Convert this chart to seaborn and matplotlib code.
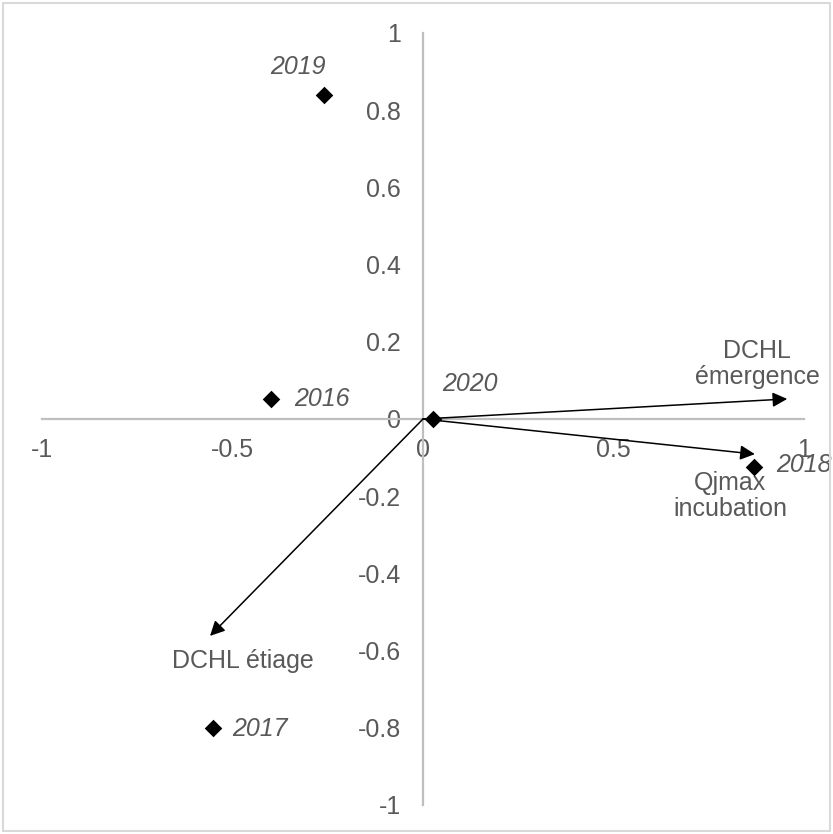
import matplotlib
matplotlib.use("Agg")
import matplotlib.pyplot as plt
from matplotlib.patches import Rectangle
import seaborn as sns
import pandas as pd

# Individuals (years) on the first two components
years = ["2016", "2017", "2018", "2019", "2020"]
comp1 = [-0.40, -0.55, 0.87, -0.26, 0.027]
comp2 = [0.052, -0.80, -0.124, 0.84, 0.0]
# label anchors for the years
year_lx = [-0.338, -0.50, 0.928, -0.328, 0.123]
year_ly = [0.052, -0.803, -0.12, 0.912, 0.091]
year_ha = ["left", "left", "left", "center", "center"]

# Variables (loadings) drawn as arrows from the origin
variables = ["DCHL\némergence", "Qjmax\nincubation", "DCHL étiage"]
load1 = [0.956, 0.871, -0.559]
load2 = [0.052, -0.091, -0.562]
var_lx = [0.877, 0.806, -0.472]
var_ly = [0.142, -0.2, -0.627]

xticks = [-1, -0.5, 0, 0.5, 1]
yticks = [-1, -0.8, -0.6, -0.4, -0.2, 0, 0.2, 0.4, 0.6, 0.8, 1]

sns.set_theme(style="white")
plt.rcParams["font.family"] = ["Liberation Sans", "DejaVu Sans"]

axis_grey = "#BFBFBF"
text_grey = "#595959"
fs = 18

fig = plt.figure(figsize=(8.33, 8.34), dpi=100)
ax = fig.add_axes([42 / 833, 1 - 805 / 834, 762 / 833, 772 / 834])

df = pd.DataFrame({"year": years, "c1": comp1, "c2": comp2})
sns.scatterplot(data=df, x="c1", y="c2", marker="D", color="black",
                s=80, edgecolor="black", linewidth=0, ax=ax, zorder=5,
                clip_on=False)

for name, vx, vy in zip(variables, load1, load2):
    ax.annotate("", xy=(vx, vy), xytext=(0, 0),
                arrowprops=dict(arrowstyle="-|>", color="black", lw=1.1,
                                mutation_scale=22, shrinkA=0, shrinkB=0),
                zorder=4)

for name, lx, ly in zip(variables, var_lx, var_ly):
    ax.text(lx, ly, name, ha="center", va="center", fontsize=fs,
            color=text_grey, linespacing=1.1)

for yr, lx, ly, ha in zip(years, year_lx, year_ly, year_ha):
    ax.text(lx, ly, yr, ha=ha, va="center", fontsize=fs, color=text_grey,
            style="italic", clip_on=False)

ax.set_xlim(-1, 1)
ax.set_ylim(-1, 1)
ax.set_xticks(xticks)
ax.set_yticks(yticks)
ax.set_xticklabels(["-1", "-0.5", "0", "0.5", "1"])
ax.set_yticklabels(["-1", "-0.8", "-0.6", "-0.4", "-0.2", "0", "0.2", "0.4",
                    "0.6", "0.8", "1"])
ax.set_xlabel("")
ax.set_ylabel("")

for side in ["top", "right"]:
    ax.spines[side].set_visible(False)
for side in ["left", "bottom"]:
    ax.spines[side].set_position("zero")
    ax.spines[side].set_color(axis_grey)
    ax.spines[side].set_linewidth(1.6)

ax.tick_params(axis="both", which="major", direction="inout", length=11.5,
               width=1.6, color=axis_grey, labelsize=fs, labelcolor=text_grey)
ax.tick_params(axis="x", pad=8)
ax.tick_params(axis="y", pad=10)
ax.set_facecolor("white")
ax.patch.set_alpha(0)

fig.patches.append(Rectangle((3 / 833, 3 / 834), 827 / 833, 828 / 834,
                             transform=fig.transFigure, fill=False,
                             edgecolor="#D9D9D9", linewidth=1.5))

fig.savefig("out.png", dpi=100, facecolor="white")
